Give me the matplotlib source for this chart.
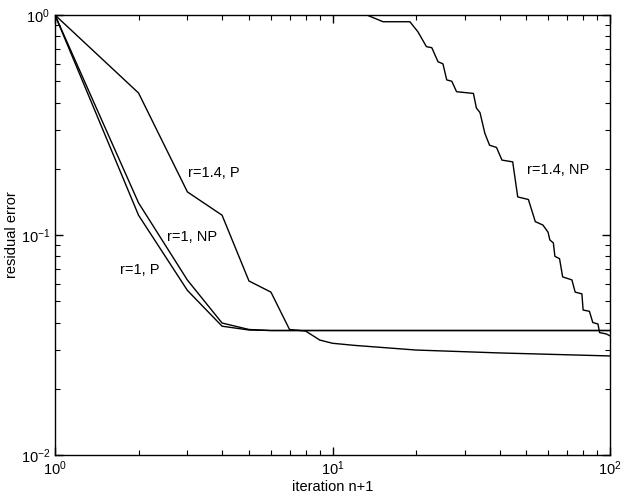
import matplotlib
matplotlib.use("Agg")
import matplotlib.pyplot as plt

plt.rcParams['font.family'] = ['Liberation Sans', 'DejaVu Sans']

# r=1, projected / non-projected
x_r1 = [1, 2, 3, 4, 5, 6, 100]
y_r1_p = [1.0, 0.123, 0.056, 0.0385, 0.0370, 0.0368, 0.0368]
y_r1_np = [1.0, 0.140, 0.0624, 0.0398, 0.0372, 0.0368, 0.0368]

# r=1.4, projected
x_r14_p = [1, 2, 3, 4, 5, 6, 7, 8, 9, 10, 12, 20, 40, 100]
y_r14_p = [1.0, 0.442, 0.157, 0.123, 0.0618, 0.055, 0.0372, 0.0366,
           0.0333, 0.0322, 0.0315, 0.0300, 0.0291, 0.0282]

# r=1.4, non-projected (staircase)
x_r14_np = [1, 13.3, 15.2, 19.0, 20.3, 21.8, 22.8, 24.0, 25.0, 25.8, 26.9,
            28.0, 32.2, 33.0, 34.0, 35.4, 36.8, 39.0, 40.8, 44.6, 45.4, 46.5,
            50.8, 52.2, 53.8, 57.3, 59.8, 60.7, 62.5, 63.3, 65.8, 67.5, 72.9,
            74.9, 79.2, 80.0, 84.3, 86.7, 90.5, 91.7, 97, 100]
y_r14_np = [1.0, 1.0, 0.932, 0.932, 0.84, 0.718, 0.71, 0.613, 0.60, 0.507,
            0.50, 0.448, 0.44, 0.378, 0.36, 0.29, 0.256, 0.25, 0.219, 0.215,
            0.184, 0.149, 0.145, 0.13, 0.115, 0.111, 0.103, 0.095, 0.092,
            0.080, 0.078, 0.0645, 0.0625, 0.055, 0.054, 0.0456, 0.045, 0.040,
            0.0394, 0.036, 0.0355, 0.0348]

# curve labels: (text, x, y)
labels = [("r=1.4, P", 3.02, 0.191),
          ("r=1, NP", 2.53, 0.098),
          ("r=1, P", 1.71, 0.069),
          ("r=1.4, NP", 50.2, 0.197)]

fig = plt.figure(figsize=(6.22, 5.01), dpi=100)
ax = fig.add_axes([55 / 622, 1 - 455 / 501, 555 / 622, 440 / 501])

ax.loglog(x_r1, y_r1_p, color="black", lw=1.0)
ax.loglog(x_r1, y_r1_np, color="black", lw=1.0)
ax.loglog(x_r14_p, y_r14_p, color="black", lw=1.0)
ax.loglog(x_r14_np, y_r14_np, color="black", lw=1.0)

ax.set_xlim(1, 100)
ax.set_ylim(0.01, 1)

ax.tick_params(which="both", direction="in", top=True, right=True,
               labelsize=10.5, colors="black")
ax.tick_params(which="major", length=6, width=1.0)
ax.tick_params(which="minor", length=3.5, width=0.8)
for s in ax.spines.values():
    s.set_linewidth(1.0)

ax.set_xlabel("iteration n+1", fontsize=10.5, labelpad=1)
ax.set_ylabel("residual error", fontsize=10.5, labelpad=1)

for txt, tx, ty in labels:
    ax.text(tx, ty, txt, fontsize=10.5, ha="left", va="center")

fig.savefig("out.png", dpi=100)
